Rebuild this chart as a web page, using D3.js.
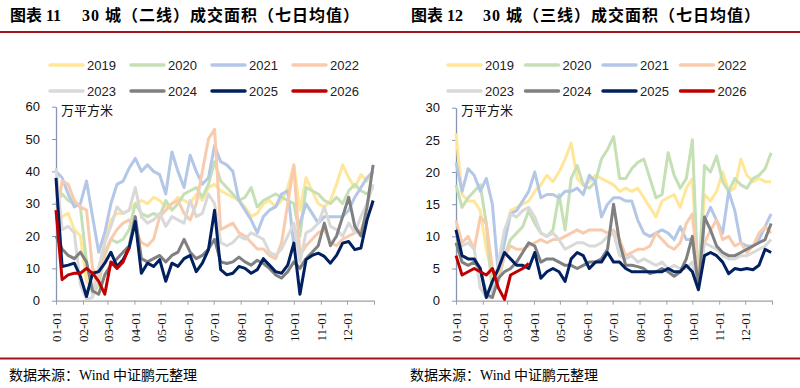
<!DOCTYPE html>
<html>
<head>
<meta charset="utf-8">
<script src="https://cdn.jsdelivr.net/npm/d3@7"></script>
<style>
body { margin: 0; background: #fff; }
svg { display: block; }
</style>
</head>
<body>
<script>
// weekly sample days (day of year), shared by all series
var DAYS = d3.range(0, 365, 7);
var MONTH_DAYS = [0, 31, 59, 90, 120, 151, 181, 212, 243, 273, 304, 334, 365];
var MONTH_LABELS = ["01-01", "02-01", "03-01", "04-01", "05-01", "06-01",
                    "07-01", "08-01", "09-01", "10-01", "11-01", "12-01", ""];
var YEARS = ["2019", "2020", "2021", "2022", "2023", "2024", "2025", "2026"];
var YEAR_COLORS = ["#FFE699", "#C5E0B4", "#B4C7E7", "#F8CBAD", "#D9D9D9", "#808080", "#002060", "#C00000"];
var TIER2_TICKS = [0, 10, 20, 30, 40, 50, 60];
var TIER3_TICKS = [0, 5, 10, 15, 20, 25, 30];

// 二线 (万平方米)
var T2_2019 = [25,26,27,22,20,6,4,10,18,25, 27,27,28,30,31,30,32,31,29,30, 32,31,30,33,31,35,36,34,33,32,
               31,29,26,27,30,31,29,31,35,42, 28,38,34,30,29,31,36,42,38,35, 39,37,40];
var T2_2020 = [30,33,31,30,29,12,2,5,14,19, 18,19,22,30,27,26,27,26,31,28, 30,33,34,35,32,36,43,37,35,33,
               31,32,35,29,31,32,33,32,31,30, 20,35,34,33,31,30,32,30,34,36, 34,33,35];
var T2_2021 = [40,38,33,29,30,37,26,15,21,30, 36,37,41,44,40,42,40,39,33,46, 40,35,45,40,36,38,48,43,42,40,
               31,28,25,21,26,28,29,33,34,17, 24,30,27,24,26,26,26,26,28,32, 35,38,40];
var T2_2022 = [25,37,36,31,29,28,10,7,15,19, 22,24,25,22,18,17,19,26,28,30, 31,27,25,30,40,50,53,22,23,24,
               21,20,18,16,16,14,13,18,30,42, 14,17,19,21,22,18,17,19,20,21, 22,26,30];
var T2_2023 = [41,22,23,21,5,0.5,1,10,18,23, 29,27,28,35,26,24,25,27,23,26, 25,24,31,26,27,33,30,18,17,18,
               20,19,21,20,19,15,14,16,20,24, 12,21,22,24,29,23,22,20,24,21, 26,30,36];
var T2_2024 = [20,16,14,13,15,12,3,2,8,11, 13,15,17,26,13,12,13,14,12,14, 15,19,15,13,14,16,19,12,11.5,12,
               13.5,12,11,12.5,11.5,10,8,7,9,12, 10,13,15,17,24,17,20,26,32,23, 20,29,42];
var T2_2025 = [38,10.6,11,11.6,7.5,1.3,8.5,9,11.6,15, 10.6,12.7,16.3,24.5,8.5,11.6,10.6,12.7,6,11.6,
               10.6,13,14,9,11.6,15.8,28,9.6,8,8.5, 10.6,10,8.5,9.6,13,11,9,8.5,11,17.8,
               2,12.7,14,14.7,13.7,11.6,14,17.8,18.3,15.8, 16.3,25,31];
var T2_2026 = [28,6.5,8,8.5,8.5,10,8.5,6,2,12,10,12,16.5];

// 三线 (万平方米)
var T3_2019 = [26,16.5,15.5,15.5,14,8,4,3.5,10,14, 14.5,15,15.5,17,18,19.5,18.5,20,22,24.5, 19,18,18.5,19.5,19,18.5,18,17,17.5,17,
               17.5,16,14.5,13,15.5,16,16.5,14.5,17.5,19, 3,16.5,15.5,17,20,17,17.5,22,19.5,18.5, 19,18.5,18.5];
var T3_2020 = [18,14.5,16,17,18,12,1,3,7,9.5, 10.5,11.5,14,12,10.5,10,11,16.5,11,19, 21,18,17.5,18.5,22,23.5,25.5,19,19,20.5,
               21.5,22,19,16,16.5,23,19.5,17.5,19,25, 2,21,20,22.5,18.5,17,19,18,17.5,19, 19.5,20.5,23];
var T3_2021 = [21.5,17,20.5,19.5,17,19,15,4,9,13.5, 14,15.5,17,20,16,16.5,16.5,16,17,17, 17.5,16.5,19.5,18.5,13,15,16,16,15.5,15.5,
               12.5,10.5,10,10.5,11,10.5,9.5,11.5,9.5,9.5, 2,12.5,14.5,12.5,10.5,17,14,9,8.5,8.5, 9.5,11.5,13.5];
var T3_2022 = [12.5,9,10,8,13,12,5,4,7,8.5, 8,8,8.5,9,9.5,9,9.5,9.5,10,10.5, 11,10.5,11,11,11,10.5,11,9.5,7,7.5,
               8,8,8.5,10.5,9.5,8.5,8,9,12,13.5, 4,9,11,12.5,9.5,10,8.5,9,7.5,8.5, 10.5,11.5,10.5];
var T3_2023 = [9,8.5,9,8,2,0.5,0.5,6,11,13.5, 13,14,14.5,13,10.5,10,10.5,9.5,8,8.5, 9,9,8.5,8.5,9,10,10.5,7,6.5,7,
               6,6.5,6,5.5,6,5,5.5,5,5,6, 2,9,8.5,8,7,6.5,6.5,7,7,7.5, 8,8.5,9.5];
var T3_2024 = [9,6,5.5,6,5,1,0.5,3.5,4.5,5, 6,7.5,9,8.5,6,6.5,6.5,6,5.5,5.5, 5,5.5,6,6,6.5,8,15,9,5.5,5.5,
               5.3,5,4.2,4.5,5,4.5,3.8,4.5,6.5,10, 2,13,11,8.5,7.5,7,7,7.5,8,8.5, 9,9.5,12];
var T3_2025 = [11,7,6.5,6.5,5,0.5,3,5,7.5,6.5, 5.5,5.5,5,7.5,3.5,4.5,5,4.5,3,6.5, 7.5,7,5,6,6,7.5,6,6,5,4.5,
               4.5,4.5,4.5,4.5,4.5,5,4.5,4.5,5.5,4.5, 1.7,7,7.5,7,6,4.2,5,4.8,5,4.8, 5.5,8,7.5];
var T3_2026 = [7,4,4.5,5,4.5,4,5,2,0.2,4,4.5,5,5.8];

var W = 800, H = 388;
var svg = d3.select("body").append("svg").attr("width", W).attr("height", H);

// red rules across the whole width
[32, 358.5].forEach(function(yy) {
    svg.append("line").attr("x1", 0).attr("x2", W)
        .attr("y1", yy).attr("y2", yy)
        .attr("stroke", "#A3131B").attr("stroke-width", 2);
});

function drawPanel(p) {
    var g = svg.append("g");
    var x = d3.scaleLinear().domain([0, 365]).range([p.left, p.right]);
    var y = d3.scaleLinear().domain([0, d3.max(p.yTicks)]).range([300.7, p.top]);

    // title
    g.append("text").attr("x", p.ox + 10).attr("y", 21)
        .style("font", "bold 16px 'Liberation Serif','Noto Sans CJK SC'")
        .text(p.titleNo);
    g.append("text").attr("x", p.ox + 82).attr("y", 21)
        .style("font", "bold 16px 'Liberation Serif','Noto Sans CJK SC'")
        .style("letter-spacing", "1px")
        .text(p.title);
    g.append("text").attr("x", p.ox + 9).attr("y", 380)
        .style("font", "14px 'Liberation Serif','Noto Sans CJK SC'")
        .text("数据来源：Wind 中证鹏元整理");

    // legend
    YEARS.forEach(function(name, i) {
        var lx = p.legX + (i % 4) * p.legStep;
        var ly = i < 4 ? 65 : 91;
        g.append("line").attr("x1", lx).attr("x2", lx + 33).attr("y1", ly).attr("y2", ly)
            .attr("stroke", YEAR_COLORS[i]).attr("stroke-width", 3.5).attr("stroke-linecap", "round");
        g.append("text").attr("x", lx + 37).attr("y", ly).attr("dy", "0.36em")
            .style("font", "13px 'Liberation Sans', Arial").attr("fill", "#222")
            .text(name);
    });

    // axes
    var yAxis = d3.axisLeft(y).tickValues(p.yTicks).tickSize(4).tickSizeOuter(0).tickPadding(12);
    var ya = g.append("g").attr("transform", "translate(" + p.left + ",0)").call(yAxis);
    ya.select(".domain").attr("stroke", "#8497B0").attr("stroke-width", 1.3);
    ya.selectAll(".tick line").attr("stroke", "#8497B0");
    ya.selectAll("text").style("font", "13px 'Liberation Sans', Arial").attr("fill", "#111");

    var xAxis = d3.axisBottom(x).tickValues(MONTH_DAYS)
        .tickFormat(function(d, i) { return MONTH_LABELS[i]; })
        .tickSize(4).tickSizeOuter(0);
    var xa = g.append("g").attr("transform", "translate(0," + y(0) + ")").call(xAxis);
    xa.select(".domain").attr("stroke", "#A0A0A0").attr("stroke-width", 1.3);
    xa.selectAll(".tick line").attr("stroke", "#A0A0A0");
    xa.selectAll("text")
        .attr("transform", "rotate(-90)")
        .attr("x", -11).attr("y", 0).attr("dy", "0.36em")
        .style("text-anchor", "end")
        .style("font", "13px 'Liberation Serif', 'Times New Roman'")
        .attr("fill", "#111");

    g.append("text").attr("x", p.left + 5).attr("y", 110).attr("dy", "0.36em")
        .style("font", "13px 'Noto Sans CJK SC'").attr("fill", "#111")
        .text("万平方米");

    // series lines, later years drawn on top
    var line = d3.line()
        .x(function(d) { return x(d[0]); })
        .y(function(d) { return y(d[1]); });
    p.series.forEach(function(vals, i) {
        var pts = vals.map(function(v, k) { return [DAYS[k], v]; });
        g.append("path").datum(pts)
            .attr("d", line)
            .attr("fill", "none")
            .attr("stroke", YEAR_COLORS[i])
            .attr("stroke-width", 3)
            .attr("stroke-linejoin", "round");
    });
}

drawPanel({
    ox: 0, left: 56, right: 374, top: 106.7,
    yTicks: TIER2_TICKS, legX: 50, legStep: 81,
    titleNo: "图表 11", title: "30 城（二线）成交面积（七日均值）",
    series: [T2_2019, T2_2020, T2_2021, T2_2022, T2_2023, T2_2024, T2_2025, T2_2026]
});
drawPanel({
    ox: 401, left: 456, right: 772, top: 107.7,
    yTicks: TIER3_TICKS, legX: 448, legStep: 77.5,
    titleNo: "图表 12", title: "30 城（三线）成交面积（七日均值）",
    series: [T3_2019, T3_2020, T3_2021, T3_2022, T3_2023, T3_2024, T3_2025, T3_2026]
});
</script>
</body>
</html>
